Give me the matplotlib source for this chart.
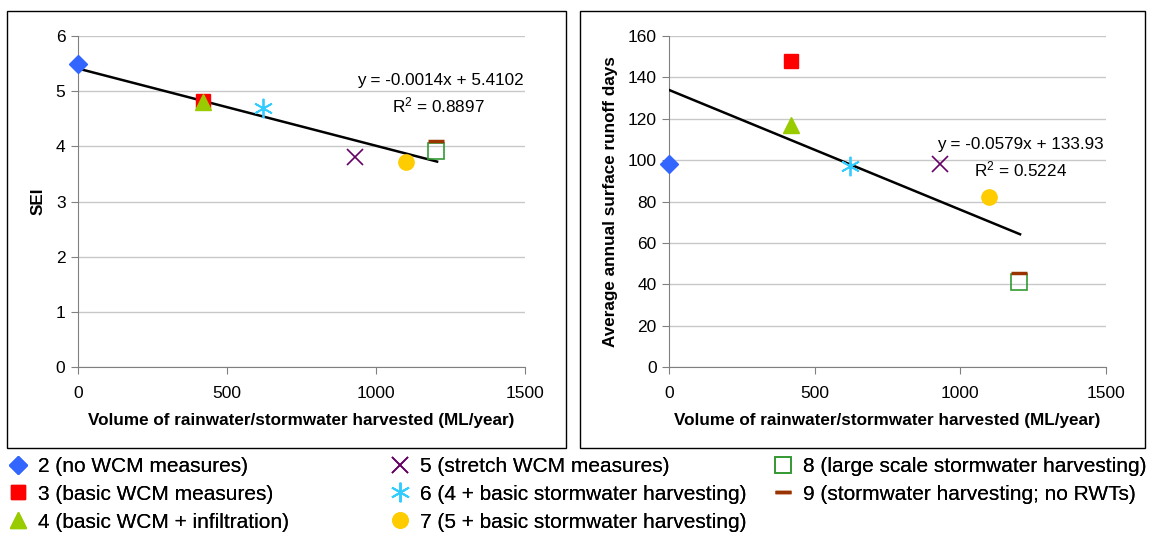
import matplotlib
matplotlib.use('Agg')
import matplotlib.pyplot as plt
import matplotlib.patches as patches
import numpy as np

plt.rcParams['font.family'] = ['Liberation Sans', 'DejaVu Sans']
plt.rcParams['mathtext.default'] = 'regular'

# Scenario data
labels = ['2 (no WCM measures)', '3 (basic WCM measures)', '4 (basic WCM + infiltration)',
          '5 (stretch WCM measures)', '6 (4 + basic stormwater harvesting)',
          '7 (5 + basic stormwater harvesting)', '8 (large scale stormwater harvesting)',
          '9 (stormwater harvesting; no RWTs)']
volume = [0, 420, 420, 930, 620, 1100, 1200, 1200]
sei = [5.5, 4.82, 4.8, 3.8, 4.7, 3.72, 3.92, 4.1]
runoff_days = [98, 148, 117, 98, 97, 82, 41, 45.5]

# fitted trend lines as printed on the chart
sei_fit = (-0.0014, 5.4102, 0.8897)
runoff_fit = (-0.0579, 133.93, 0.5224)

# marker styles per scenario
styles = [
    dict(marker='D', color='#3366FF', ms=9),
    dict(marker='s', color='#FF0000', ms=10),
    dict(marker='^', color='#99CC00', ms=11),
    dict(marker='x', color='#660066', ms=12, mew=1.2),
    dict(marker=(6, 2, 0), color='#33CCFF', ms=14, mew=1.3),
    dict(marker='o', color='#FFCC00', ms=11),
    dict(marker='s', color='#339933', ms=11, mfc='none', mew=1.2),
    dict(marker='_', color='#993300', ms=12, mew=2.5),
]

fig = plt.figure(figsize=(11.53, 5.34), dpi=100)

# panel frames
for x0, x1 in [(7, 566), (580, 1145)]:
    fig.add_artist(patches.Rectangle((x0 / 1153, 1 - 448 / 534), (x1 - x0) / 1153, 437 / 534,
                                     transform=fig.transFigure, fill=False,
                                     edgecolor='black', linewidth=1))

ax1 = fig.add_axes([78 / 1153, 1 - 367 / 534, 447 / 1153, 331 / 534])
ax2 = fig.add_axes([669 / 1153, 1 - 367 / 534, 437 / 1153, 331 / 534])


def draw(ax, yvals, fit, ylim, yticks, ylabel, eq_text, eq_pos, r2_pos):
    handles = []
    for xv, yv, st, lab in zip(volume, yvals, styles, labels):
        h, = ax.plot([xv], [yv], linestyle='none', label=lab, clip_on=False, zorder=4, **st)
        handles.append(h)
    xs = np.array([0, max(volume) + 5])
    ax.plot(xs, fit[0] * xs + fit[1], color='black', lw=1.8, zorder=3)
    ax.set_xlim(0, 1500)
    ax.set_ylim(*ylim)
    ax.set_xticks([0, 500, 1000, 1500])
    ax.set_yticks(yticks)
    ax.grid(axis='y', color='#C8C8C8', lw=1)
    ax.set_axisbelow(True)
    for s in ['top', 'right']:
        ax.spines[s].set_visible(False)
    for s in ['left', 'bottom']:
        ax.spines[s].set_color('#808080')
    ax.tick_params(direction='out', length=5, color='#808080', labelsize=12.5, pad=4)
    ax.tick_params(axis='x', pad=9)
    ax.set_xlabel('Volume of rainwater/stormwater harvested (ML/year)', fontweight='bold',
                  fontsize=12.3, labelpad=8)
    ax.set_ylabel(ylabel, fontweight='bold', fontsize=12.3, labelpad=7)
    ax.text(eq_pos[0], eq_pos[1], eq_text, ha='center', va='center', fontsize=12.3)
    ax.text(r2_pos[0], r2_pos[1], 'R$^2$ = %.4f' % fit[2], ha='center', va='center', fontsize=12.3)
    return handles


handles = draw(ax1, sei, sei_fit, (0, 6), range(0, 7), 'SEI',
               'y = -0.0014x + 5.4102', (1215, 5.20), (1208, 4.75))
draw(ax2, runoff_days, runoff_fit, (0, 160), range(0, 161, 20),
     'Average annual surface runoff days', 'y = -0.0579x + 133.93', (1205, 107.6), (1205, 95.3))

# legend in three columns below the panels
for cols, xpix in [((0, 3), 8), ((3, 6), 390), ((6, 8), 773)]:
    leg = fig.legend(handles=handles[cols[0]:cols[1]], loc='upper left',
                     bbox_to_anchor=(xpix / 1153, 1 - 457 / 534), frameon=False,
                     fontsize=15, handlelength=1.0, handletextpad=0.45,
                     labelspacing=0.42, borderaxespad=0, borderpad=0)
    fig.add_artist(leg)

fig.savefig('out.png', dpi=100)
